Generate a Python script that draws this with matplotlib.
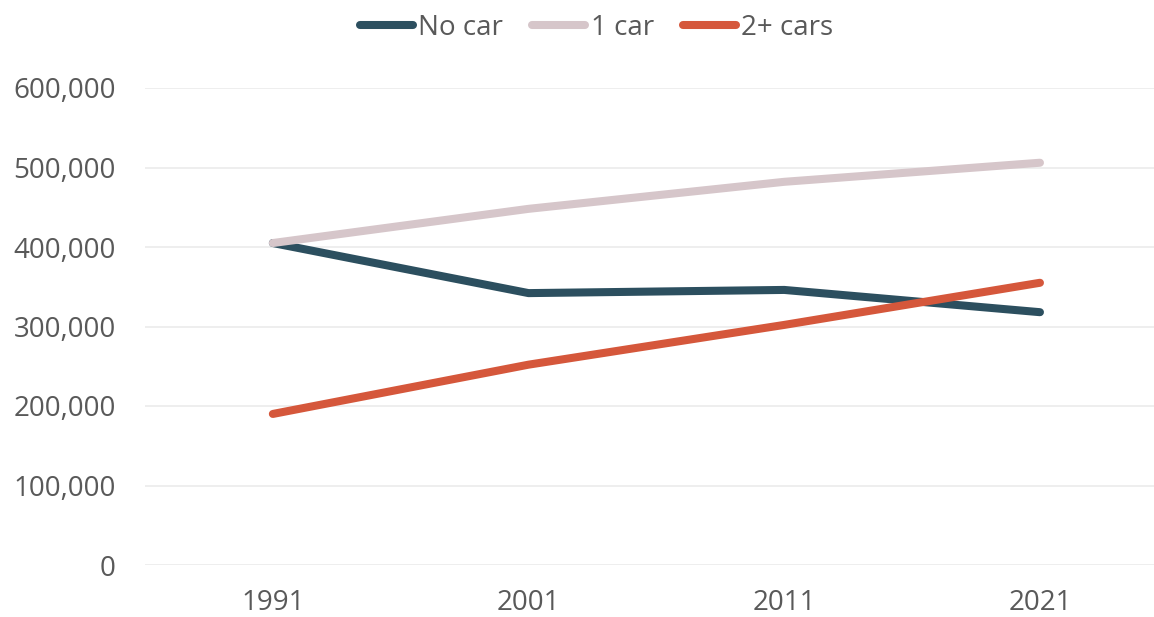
import matplotlib
matplotlib.use("Agg")
import matplotlib.pyplot as plt
from matplotlib.ticker import FuncFormatter

years = ['1991', '2001', '2011', '2021']
no_car = [405000, 342000, 346000, 318000]
one_car = [405000, 448000, 482000, 506000]
two_plus = [190000, 252000, 302000, 355000]

series = ['No car', '1 car', '2+ cars']
colors = ['#2c4f5f', '#d6c6ca', '#d5573b']

plt.rcParams['font.family'] = ['Open Sans', 'DejaVu Sans']
text_color = '#595959'

fig = plt.figure(figsize=(11.54, 6.17), dpi=100)
ax = fig.add_axes([145 / 1154, (617 - 565) / 617, 1 - 145 / 1154, (565 - 88) / 617])

x = range(len(years))
for vals, name, c in zip([no_car, one_car, two_plus], series, colors):
    ax.plot(x, vals, color=c, lw=5.8, solid_capstyle='round',
            solid_joinstyle='round', label=name)

ax.set_xlim(-0.5, 3.446)
ax.set_ylim(0, 600000)
ax.set_yticks(range(0, 600001, 100000))
ax.yaxis.set_major_formatter(FuncFormatter(lambda v, p: f'{int(v):,}'))
ax.set_xticks(list(x))
ax.set_xticklabels(years)
ax.grid(axis='y', color='#ededed', lw=1.3)
ax.set_axisbelow(True)
for s in ax.spines.values():
    s.set_visible(False)
ax.tick_params(length=0, labelsize=20, colors=text_color)
ax.tick_params(axis='y', pad=21)
ax.tick_params(axis='x', pad=17)

leg = fig.legend(loc='center', bbox_to_anchor=(0.517, 1 - 28 / 617), ncol=3,
                 frameon=False, fontsize=20, handlelength=1.9,
                 handletextpad=0.2, columnspacing=1.05)
for t in leg.get_texts():
    t.set_color(text_color)

fig.savefig('out.png', dpi=100)
